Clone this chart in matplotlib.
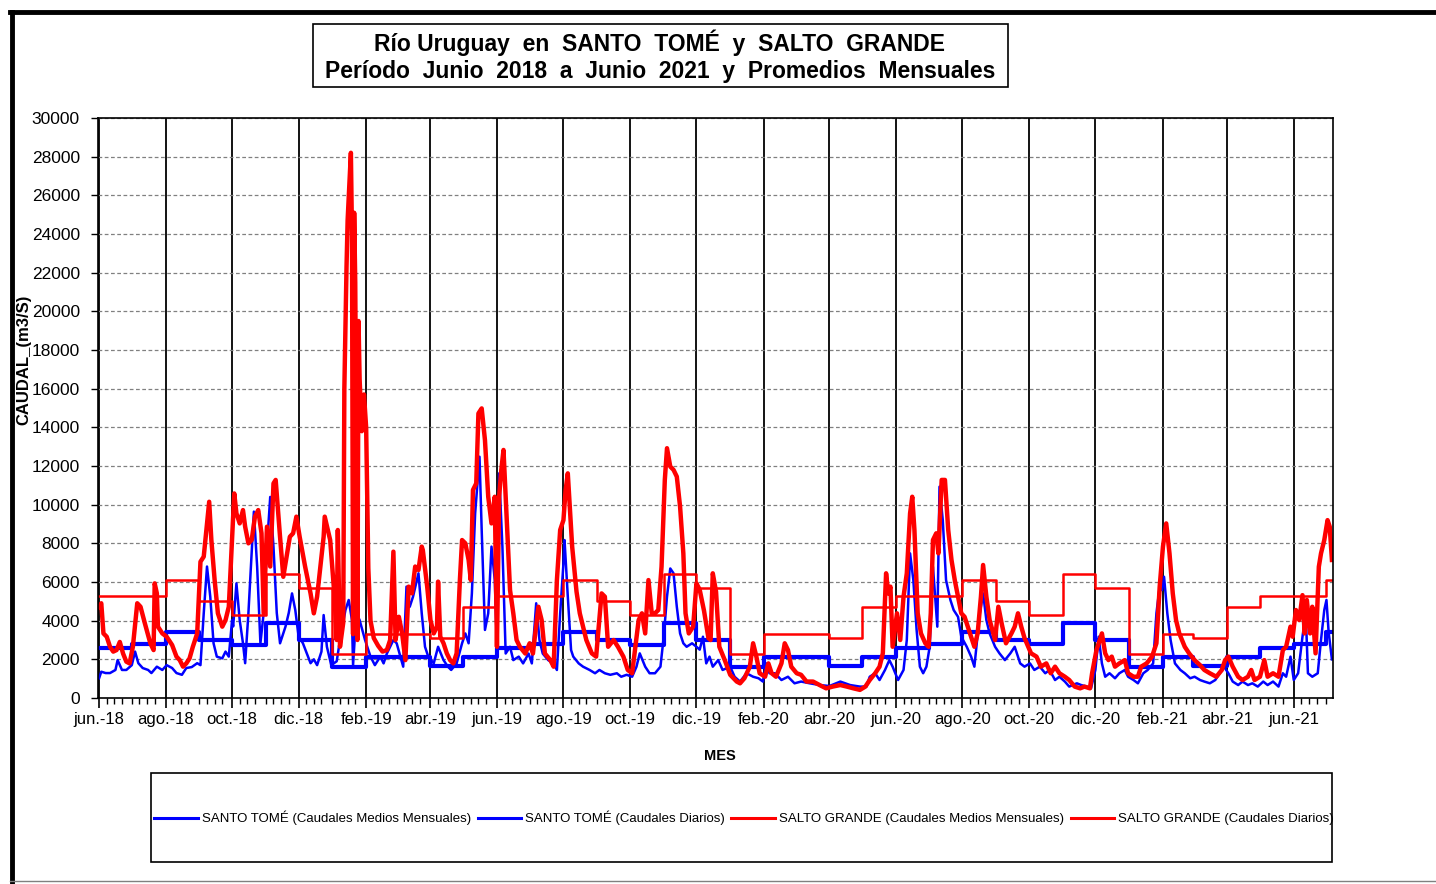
import matplotlib
matplotlib.use("Agg")
import matplotlib.pyplot as plt
import matplotlib.dates as mdates
from matplotlib.lines import Line2D
from matplotlib.patches import Rectangle
from matplotlib import font_manager
import pandas as pd

# --- Datos ---
inicio = pd.Timestamp("2018-06-01")
meses = pd.date_range("2018-06-01", periods=38, freq="MS")  # jun-18 .. jul-21

# promedios mensuales (m3/s)
st_mensual = [2600, 2800, 3400, 3000, 2750, 3900, 3000,
              1600, 2100, 2100, 1650, 2100, 2600, 2800, 3400, 3000, 2750, 3900, 3000,
              1600, 2100, 2100, 1650, 2100, 2600, 2800, 3400, 3000, 2800, 3900, 3000,
              1600, 2100, 1650, 2100, 2600, 2800, 3400]
sg_mensual = [5300, 5300, 6100, 5000, 4300, 6400, 5700,
              2300, 3300, 3300, 3100, 4700, 5300, 5300, 6100, 5000, 4300, 6400, 5700,
              2300, 3300, 3300, 3100, 4700, 5300, 5300, 6100, 5000, 4300, 6400, 5700,
              2300, 3300, 3100, 4700, 5300, 5300, 6100]

# caudales diarios: dia (desde 1-jun-2018) y caudal
st_dia = [0, 2, 6, 10, 15, 17, 21, 25, 30, 33, 36, 40, 45, 48, 53, 58, 62, 67, 71, 76,
          80, 85, 90, 93, 96, 99, 102, 105, 108, 113, 116, 119, 122, 123, 126, 129, 132, 134, 137, 142,
          145, 148, 151, 154, 157, 160, 163, 166, 171, 174, 177, 180, 183, 187, 194, 197, 200, 204, 206, 209,
          213, 218, 221, 226, 229, 232, 233, 236, 239, 244, 249, 253, 258, 261, 264, 270, 273, 279, 282, 285,
          288, 293, 296, 299, 302, 307, 311, 316, 320, 323, 328, 333, 336, 339, 342, 345, 349, 351, 354, 357,
          360, 363, 365, 367, 370, 373, 377, 380, 385, 389, 394, 397, 401, 404, 407, 412, 417, 420, 423, 426,
          427, 430, 433, 435, 440, 444, 450, 455, 459, 464, 469, 475, 479, 484, 489, 493, 496, 501, 505, 510,
          515, 518, 521, 524, 527, 530, 533, 536, 539, 544, 548, 551, 554, 557, 560, 563, 568, 572, 579, 583,
          588, 594, 600, 605, 609, 612, 615, 620, 626, 632, 638, 644, 652, 661, 670, 680, 689, 698, 704, 707,
          712, 716, 721, 725, 728, 733, 738, 741, 744, 747, 750, 753, 756, 759, 762, 765, 769, 771, 774, 777,
          781, 784, 788, 791, 796, 800, 803, 808, 811, 814, 817, 822, 826, 831, 836, 840, 845, 849, 854, 858,
          863, 868, 872, 877, 881, 886, 890, 897, 901, 906, 910, 914, 917, 920, 923, 927, 932, 936, 941, 944,
          949, 953, 958, 962, 967, 970, 973, 975, 977, 980, 983, 987, 992, 996, 1001, 1005, 1010, 1014, 1019, 1024,
          1028, 1032, 1036, 1040, 1045, 1049, 1054, 1058, 1063, 1068, 1072, 1077, 1082, 1086, 1089, 1093, 1096, 1100, 1104, 1107,
          1109, 1113, 1118, 1121, 1124, 1126, 1128, 1131]
st_caudal = [1020, 1360, 1290, 1290, 1450, 1960, 1450, 1450, 1700, 2400, 1800, 1550, 1450, 1290, 1620, 1450, 1700, 1550, 1290, 1200,
             1550, 1600, 1800, 1700, 4380, 6800, 5240, 2830, 2140, 2050, 2400, 2140, 4030, 3700, 5930, 4030, 2830, 1800, 4400, 9640,
             6800, 2830, 4400, 7830, 10400, 7800, 4400, 2830, 3690, 4400, 5410, 4550, 3200, 2830, 1800, 2000, 1700, 2400, 4290, 2650,
             1700, 1900, 3000, 4550, 5070, 4030, 1700, 4400, 4030, 3000, 2140, 1700, 2140, 1790, 2300, 3000, 2830, 1620, 5760, 4720,
             5240, 6450, 4380, 2650, 2140, 1790, 2650, 1960, 1620, 1450, 1790, 2830, 3340, 2830, 5410, 9550, 12480, 8690, 3520, 4380,
             7830, 6100, 2650, 11620, 7830, 2300, 2650, 1960, 2140, 1790, 2300, 1790, 4900, 3000, 2300, 1960, 1790, 1450, 4380, 6960,
             8170, 5240, 2480, 2140, 1790, 1620, 1450, 1280, 1450, 1280, 1200, 1280, 1100, 1200, 1100, 1620, 2310, 1620, 1280, 1280,
             1620, 3170, 5240, 6700, 6450, 4720, 3340, 2830, 2650, 2830, 2650, 2500, 3170, 1790, 2140, 1620, 1960, 1450, 1620, 1100,
             850, 1280, 1100, 1020, 850, 1790, 1280, 1280, 930, 1100, 760, 850, 760, 670, 620, 850, 670, 590, 590, 1100,
             1280, 930, 1450, 1960, 1620, 930, 1450, 3000, 7480, 6100, 3520, 1620, 1280, 1620, 2650, 6790, 3690, 10930, 9200, 6100,
             5070, 4550, 4200, 3170, 2650, 2140, 1620, 4380, 5410, 4030, 3340, 2650, 2310, 1960, 2310, 2650, 1790, 1620, 1790, 1450,
             1620, 1280, 1450, 930, 1100, 850, 590, 760, 670, 590, 500, 1450, 3170, 1790, 1100, 1280, 1020, 1280, 1450, 1100,
             930, 760, 1280, 1450, 1790, 4380, 5760, 5580, 6270, 4380, 3000, 1790, 1450, 1280, 1020, 1100, 930, 850, 760, 930,
             1280, 1620, 1280, 850, 670, 850, 670, 760, 590, 850, 670, 850, 590, 1280, 1100, 2140, 930, 1280, 3170, 4380,
             1280, 1100, 1280, 3000, 4550, 5070, 3400, 2000]

sg_dia = [0, 2, 4, 7, 10, 13, 16, 19, 22, 25, 28, 31, 35, 38, 42, 47, 50, 51, 53, 54,
          58, 62, 67, 71, 74, 77, 80, 83, 86, 90, 93, 96, 99, 101, 103, 106, 109, 113, 116, 119,
          122, 124, 126, 129, 132, 134, 137, 140, 143, 146, 149, 151, 154, 157, 160, 162, 166, 169, 172, 175,
          178, 181, 184, 189, 194, 197, 200, 203, 206, 207, 212, 216, 218, 219, 221, 224, 225, 227, 228, 231,
          232, 233, 234, 235, 237, 238, 239, 241, 243, 245, 247, 249, 252, 256, 260, 264, 267, 270, 272, 275,
          278, 281, 284, 287, 290, 293, 296, 297, 301, 304, 307, 310, 311, 313, 316, 319, 322, 325, 328, 331,
          333, 336, 339, 341, 343, 346, 348, 351, 354, 357, 360, 363, 365, 367, 369, 371, 374, 377, 380, 383,
          386, 391, 395, 398, 403, 406, 409, 414, 417, 420, 423, 426, 428, 430, 434, 438, 441, 447, 452, 456,
          461, 464, 467, 472, 476, 481, 485, 489, 492, 495, 498, 501, 504, 507, 510, 513, 516, 519, 521, 524,
          527, 530, 533, 536, 538, 541, 545, 548, 551, 555, 559, 561, 563, 566, 569, 574, 579, 585, 588, 592,
          597, 600, 603, 606, 611, 614, 617, 621, 626, 629, 632, 635, 640, 644, 649, 655, 661, 667, 673, 680,
          686, 692, 698, 703, 707, 712, 716, 719, 722, 724, 726, 728, 732, 735, 738, 741, 744, 746, 748, 751,
          754, 758, 761, 763, 765, 768, 770, 773, 776, 779, 782, 785, 788, 791, 794, 799, 803, 806, 809, 811,
          814, 817, 822, 825, 828, 832, 837, 840, 843, 846, 849, 855, 860, 864, 869, 873, 877, 881, 886, 890,
          895, 900, 904, 909, 911, 915, 920, 923, 926, 929, 932, 936, 941, 944, 949, 953, 956, 961, 966, 970,
          973, 976, 979, 982, 985, 988, 991, 996, 1000, 1005, 1010, 1014, 1019, 1025, 1030, 1033, 1036, 1040, 1045, 1049,
          1054, 1057, 1060, 1065, 1069, 1072, 1077, 1082, 1086, 1089, 1093, 1095, 1098, 1101, 1104, 1106, 1108, 1111, 1113, 1116,
          1119, 1121, 1124, 1127, 1129, 1131]
sg_caudal = [4700, 4900, 3340, 3170, 2650, 2400, 2480, 2900, 2300, 1880, 1790, 2650, 4900, 4720, 3860, 2830, 2480, 5930, 5410, 3690,
             3340, 3170, 2740, 2140, 1960, 1620, 1790, 2050, 2650, 3340, 7050, 7310, 9030, 10150, 8170, 6100, 4380, 3690, 4030, 4720,
             8170, 10580, 9550, 9030, 9720, 8860, 8000, 8170, 9380, 9720, 8520, 4380, 8860, 6800, 11100, 11280, 8340, 6270, 7310, 8340,
             8520, 9380, 8340, 6800, 5410, 4380, 5240, 6800, 8340, 9380, 8170, 5240, 3000, 8690, 2650, 3900, 16000, 22300, 24700, 28200,
             24000, 3300, 25100, 21500, 3000, 19500, 16500, 13800, 15700, 14000, 6700, 4000, 3100, 2700, 2400, 2480, 3000, 7570, 3000, 4200,
             3340, 1960, 5760, 5410, 6800, 6620, 7830, 7650, 5760, 4030, 3340, 3690, 6020, 3170, 2830, 2310, 1960, 1790, 2310, 6100,
             8170, 8000, 7140, 6100, 10760, 11100, 14720, 14980, 13340, 10410, 9030, 10410, 2650, 10410, 11800, 12830, 9200, 5580, 4380, 3000,
             2650, 2300, 2830, 2300, 4720, 4030, 2300, 1960, 1620, 6100, 8690, 9200, 10760, 11620, 7830, 5500, 4380, 3000, 2310, 2140,
             5410, 5240, 2650, 3000, 2650, 2140, 1450, 1280, 2650, 4030, 4380, 3340, 6100, 4380, 4380, 4550, 6790, 11280, 12920, 11970,
             11800, 11450, 9900, 7480, 4380, 3340, 3690, 5930, 5600, 4500, 3100, 3000, 6450, 5500, 2650, 1960, 1200, 850, 760, 1020,
             1620, 2830, 2140, 1280, 1100, 1790, 1280, 1100, 1790, 2830, 2480, 1620, 1280, 1200, 850, 850, 670, 500, 590, 670,
             590, 500, 420, 590, 930, 1280, 1620, 2310, 6450, 5410, 5760, 2650, 4380, 3000, 5240, 6450, 9550, 10410, 8690, 4380,
             3340, 2830, 2650, 4380, 8170, 8520, 7480, 11280, 11280, 8690, 7140, 6100, 5240, 4380, 4200, 3340, 2650, 3340, 5240, 6880,
             5240, 4030, 3000, 4720, 3860, 2830, 3340, 3690, 4380, 3690, 3100, 2310, 2140, 1620, 1790, 1280, 1620, 1280, 1100, 930,
             590, 500, 590, 500, 1280, 2480, 3340, 2310, 1960, 2140, 1620, 1790, 1960, 1280, 1100, 1100, 1620, 1790, 2140, 2830,
             5760, 7830, 9030, 7480, 5410, 4030, 3340, 2650, 2310, 1960, 1700, 1450, 1280, 1100, 1450, 1960, 2140, 1620, 1100, 930,
             1100, 1450, 930, 1100, 1960, 1100, 1280, 1100, 2480, 2650, 3690, 3170, 4550, 4030, 5320, 3340, 5070, 3340, 4720, 2310,
             6790, 7480, 8170, 9200, 8860, 7140]

mes_abrev = ["ene.", "feb.", "mar.", "abr.", "may.", "jun.",
             "jul.", "ago.", "sep.", "oct.", "nov.", "dic."]

titulo = ("Río Uruguay  en  SANTO  TOMÉ  y  SALTO  GRANDE\n"
          "Período  Junio  2018  a  Junio  2021  y  Promedios  Mensuales")
etiquetas = ["SANTO TOMÉ (Caudales Medios Mensuales)", "SANTO TOMÉ (Caudales Diarios)",
             "SALTO GRANDE (Caudales Medios Mensuales)", "SALTO GRANDE (Caudales Diarios)"]

# --- Fuentes ---
disponibles = {f.name for f in font_manager.fontManager.ttflist}
fuente = "Liberation Sans" if "Liberation Sans" in disponibles else "DejaVu Sans"
fuente_ley = "Liberation Sans Narrow" if "Liberation Sans Narrow" in disponibles else fuente
plt.rcParams["font.family"] = [fuente, "DejaVu Sans"]

# --- Series ---
fecha_fin = pd.Timestamp("2021-07-07")
x_mes = list(meses) + [fecha_fin]
st_m = st_mensual + [st_mensual[-1]]
sg_m = sg_mensual + [sg_mensual[-1]]
st_fechas = [inicio + pd.Timedelta(days=d) for d in st_dia]
sg_fechas = [inicio + pd.Timedelta(days=d) for d in sg_dia]

fig = plt.figure(figsize=(14.36, 8.84), dpi=100)
ax = fig.add_axes([98 / 1436, 1 - 698 / 884, (1333 - 98) / 1436, (698 - 118) / 884])

l1, = ax.plot(x_mes, st_m, drawstyle="steps-post", color="#0000FF", lw=3.0)
l2, = ax.plot(st_fechas, st_caudal, color="#0000FF", lw=1.8)
l3, = ax.plot(x_mes, sg_m, drawstyle="steps-post", color="#FF0000", lw=1.8)
l4, = ax.plot(sg_fechas, sg_caudal, color="#FF0000", lw=3.2)

ax.set_xlim(pd.Timestamp("2018-05-31"), fecha_fin)
ax.set_ylim(0, 30000)
ax.set_yticks(range(0, 30001, 2000))

ax.xaxis.set_major_locator(mdates.MonthLocator(bymonth=[2, 4, 6, 8, 10, 12]))
ax.xaxis.set_minor_locator(mdates.DayLocator(bymonthday=[1, 8, 15, 22]))
ax.xaxis.set_major_formatter(plt.FuncFormatter(
    lambda v, p: f"{mes_abrev[mdates.num2date(v).month - 1]}-{mdates.num2date(v).year % 100:02d}"))

ax.tick_params(axis="x", which="major", length=7, width=1.2, labelsize=12, pad=3, direction="out")
ax.tick_params(axis="x", which="minor", length=4, width=1.0, direction="out")
ax.tick_params(axis="y", length=5, width=1.0, labelsize=12.5, pad=8)

ax.grid(True, axis="y", linestyle=(0, (3, 2)), color="#808080", lw=0.9)
ax.grid(True, axis="x", which="major", linestyle="-", color="black", lw=1.3)
for s in ax.spines.values():
    s.set_color("black")
    s.set_linewidth(1.2)

# titulo en recuadro
fig.patches.append(Rectangle((313 / 1436, 1 - 87 / 884), 695 / 1436, 63 / 884,
                             transform=fig.transFigure, fill=False, ec="black", lw=1.2))
fig.text(660 / 1436, 1 - 56 / 884, titulo, ha="center", va="center", fontsize=16.5,
         fontweight="bold", linespacing=1.22)

fig.text(24 / 1436, 1 - 360 / 884, "CAUDAL_(m3/S)", rotation=90, ha="center", va="center",
         fontsize=12, fontweight="bold")
fig.text(720 / 1436, 1 - 756 / 884, "MES", ha="center", va="center", fontsize=10.5, fontweight="bold")

# leyenda
fig.patches.append(Rectangle((151 / 1436, 1 - 862 / 884), 1181 / 1436, 89 / 884,
                             transform=fig.transFigure, fill=False, ec="black", lw=1.2))
ley = fig.legend([l1, l2, l3, l4], etiquetas, loc="center", bbox_to_anchor=(744 / 1436, 1 - 818 / 884),
                 ncol=4, frameon=False, prop={"family": [fuente_ley, fuente], "size": 9.5},
                 handlelength=3.3, handletextpad=0.3, columnspacing=0.5)
for h in ley.legend_handles:
    h.set_linewidth(2.2)

# marco exterior
fig.add_artist(Line2D([10 / 1436, 1], [1 - 12 / 884, 1 - 12 / 884], transform=fig.transFigure,
                      color="black", lw=3.5))
fig.add_artist(Line2D([12 / 1436, 12 / 1436], [1 - 12 / 884, 0], transform=fig.transFigure,
                      color="black", lw=3.5))
fig.add_artist(Line2D([10 / 1436, 1], [1 - 881 / 884, 1 - 881 / 884], transform=fig.transFigure,
                      color="#808080", lw=1.0))

fig.savefig("out.png", dpi=100)
